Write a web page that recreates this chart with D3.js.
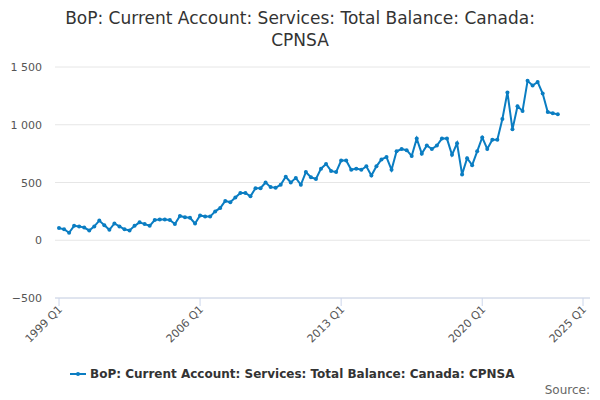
<!DOCTYPE html>
<html><head><meta charset="utf-8">
<script src="https://cdn.jsdelivr.net/npm/d3@7"></script>
<style>body{margin:0;font-family:"DejaVu Sans",sans-serif;background:#fff}</style>
</head><body>
<script>
var values = [105, 95, 65, 125, 120, 110, 85, 120, 170, 130, 90, 145, 120, 95, 85, 125,
    155, 140, 125, 175, 180, 180, 175, 140, 210, 200, 195, 145, 215, 205, 205,
    250, 280, 340, 330, 370, 410, 410, 380, 450, 450, 500, 460, 455, 480, 550, 500,
    540, 480, 590, 545, 530, 620, 660, 600, 590, 690, 690, 610, 620, 610, 640, 560,
    640, 700, 720, 610, 770, 790, 780, 730, 880, 750, 820, 790, 820, 880, 880, 740,
    840, 570, 710, 650, 770, 890, 790, 870, 870, 1050, 1280, 960, 1160, 1120, 1380, 1340,
    1370, 1270, 1110, 1100, 1090];
var tickIdx = [0, 28, 56, 84, 104];
var tickLabels = ["1999 Q1", "2006 Q1", "2013 Q1", "2020 Q1", "2025 Q1"];
var yTicks = [-500, 0, 500, 1000, 1500];
var seriesName = "BoP: Current Account: Services: Total Balance: Canada: CPNSA";

var w = 600, h = 400, color = "#0a7dc2";
var svg = d3.select("body").append("svg").attr("width", w).attr("height", h);

svg.append("text").attr("x", 300).attr("y", 24).attr("text-anchor", "middle")
    .attr("font-size", 17).attr("fill", "#333").text("BoP: Current Account: Services: Total Balance: Canada:");
svg.append("text").attr("x", 300).attr("y", 46).attr("text-anchor", "middle")
    .attr("font-size", 17).attr("fill", "#333").text("CPNSA");

var x = d3.scaleLinear().domain([0, 104]).range([59, 583]);
var y = d3.scaleLinear().domain([-500, 1500]).range([298, 67]);

svg.selectAll("line.grid").data(yTicks).enter().append("line")
    .attr("x1", 55).attr("x2", 590)
    .attr("y1", function (d) { return y(d); }).attr("y2", function (d) { return y(d); })
    .attr("stroke", "#e6e6e6");

svg.selectAll("text.yl").data(yTicks).enter().append("text")
    .attr("x", 42).attr("y", function (d) { return y(d) + 4; })
    .attr("text-anchor", "end").attr("font-size", 11).attr("fill", "#555")
    .text(function (d) { return d3.format(",")(d).replace(",", " "); });

svg.append("line").attr("x1", 55).attr("x2", 590).attr("y1", 298).attr("y2", 298).attr("stroke", "#ccd6eb");
tickIdx.forEach(function (t, i) {
    svg.append("line").attr("x1", x(t)).attr("x2", x(t)).attr("y1", 298).attr("y2", 306).attr("stroke", "#ccd6eb");
    svg.append("text").attr("transform", "translate(" + (x(t) + 4) + ",310) rotate(-45)")
        .attr("text-anchor", "end").attr("font-size", 11).attr("fill", "#555").text(tickLabels[i]);
});

var line = d3.line().x(function (d, i) { return x(i); }).y(function (d) { return y(d); });
svg.append("path").datum(values).attr("d", line).attr("fill", "none")
    .attr("stroke", color).attr("stroke-width", 2);
svg.selectAll("circle.pt").data(values).enter().append("circle")
    .attr("cx", function (d, i) { return x(i); }).attr("cy", function (d) { return y(d); })
    .attr("r", 2).attr("fill", color);

svg.append("line").attr("x1", 70).attr("x2", 86).attr("y1", 374).attr("y2", 374).attr("stroke", color).attr("stroke-width", 2);
svg.append("circle").attr("cx", 78).attr("cy", 374).attr("r", 2).attr("fill", color);
svg.append("text").attr("x", 90).attr("y", 378).attr("font-size", 12).attr("font-weight", "bold")
    .attr("fill", "#333").text(seriesName);
svg.append("text").attr("x", 590).attr("y", 394).attr("text-anchor", "end").attr("font-size", 12)
    .attr("fill", "#666").text("Source:");
</script>
</body></html>
